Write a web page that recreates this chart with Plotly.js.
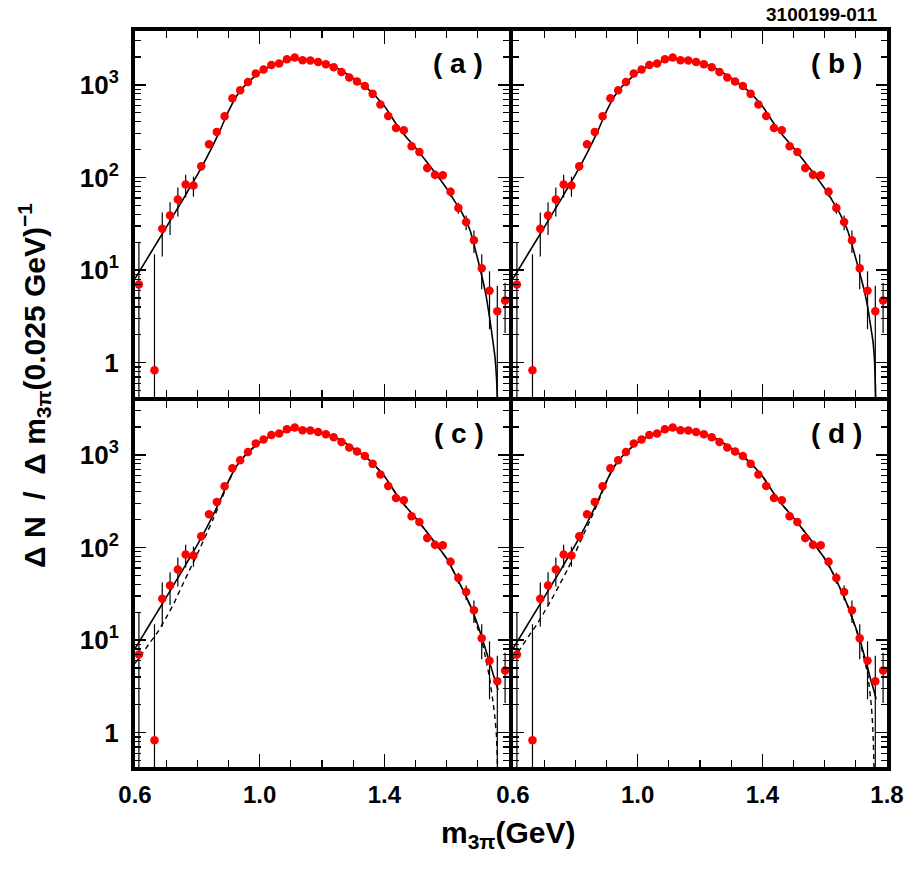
<!DOCTYPE html>
<html>
<head>
<meta charset="utf-8">
<script src="https://cdn.plot.ly/plotly-3.0.1.min.js"></script>
<style>html,body{margin:0;padding:0;background:#fff;}#chart{width:919px;height:871px;}</style>
</head>
<body>
<div id="chart"></div>
<script>
// ---- measured data (same in all four panels) ----
const mass = [0.6125, 0.6625, 0.6875, 0.7125, 0.7375, 0.7625, 0.7875, 0.8125, 0.8375, 0.8625,
  0.8875, 0.9125, 0.9375, 0.9625, 0.9875, 1.0125, 1.0375, 1.0625, 1.0875, 1.1125,
  1.1375, 1.1625, 1.1875, 1.2125, 1.2375, 1.2625, 1.2875, 1.3125, 1.3375, 1.3625,
  1.3875, 1.4125, 1.4375, 1.4625, 1.4875, 1.5125, 1.5375, 1.5625, 1.5875, 1.6125,
  1.6375, 1.6625, 1.6875, 1.7125, 1.7375, 1.7625, 1.7875];
const counts = [7.0, 0.83, 28, 39, 58, 84, 82, 132, 229, 311,
  459, 718, 876, 1077, 1326, 1465, 1644, 1700, 1893, 1973,
  1847, 1832, 1772, 1672, 1552, 1382, 1200, 1086, 975, 800,
  613, 462, 343, 324, 218, 189, 127, 107, 106, 70,
  47, 33, 21, 10.5, 6.0, 3.6, 4.7];
const errors = [13, 14, 14, 15, 20, 23, 20, 14, 20, 22,
  26, 32, 36, 40, 44, 46, 49, 50, 52, 53,
  52, 51, 50, 49, 47, 45, 42, 40, 37, 34,
  30, 26, 22, 22, 18, 16, 13, 11, 10, 8,
  6.5, 6, 5.7, 4.3, 3.7, 3.2, 2.6];

// ---- fit curves ----
const fitMass = [0.600, 0.625, 0.650, 0.675, 0.700, 0.725, 0.750, 0.775, 0.800, 0.825,
  0.850, 0.875, 0.900, 0.925, 0.950, 0.975, 1.000, 1.025, 1.050, 1.075,
  1.100, 1.125, 1.150, 1.175, 1.200, 1.250, 1.300, 1.350, 1.400, 1.450,
  1.500, 1.550, 1.600, 1.625, 1.650, 1.675, 1.700, 1.7125, 1.725, 1.7375,
  1.750, 1.755, 1.760, 1.765];
const fitA = [8.1, 11.1, 15.3, 21.0, 29, 40, 55, 77, 107, 152,
  222, 335, 520, 750, 960, 1160, 1360, 1530, 1670, 1780,
  1870, 1910, 1890, 1830, 1740, 1500, 1180, 890, 590, 330,
  209, 128, 76, 56, 41, 27, 13, 8.7, 5.6, 3.1,
  1.55, 1.15, 0.68, 0.25];
const fitB = [8.1, 11.1, 15.3, 21.0, 29, 40, 55, 77, 107, 152,
  222, 335, 520, 750, 960, 1160, 1360, 1530, 1670, 1780,
  1870, 1910, 1890, 1830, 1740, 1500, 1180, 890, 590, 330,
  209, 128, 76, 56, 40, 26, 13.3, 9.3, 6.4, 4.1,
  2.2, 1.7, 1.05, 0.3];
const fitC = [8.1, 11.1, 15.3, 21.0, 29, 40, 55, 77, 107, 152,
  222, 335, 520, 750, 960, 1160, 1360, 1530, 1670, 1780,
  1870, 1910, 1890, 1830, 1740, 1500, 1180, 890, 590, 330,
  209, 128, 76, 53, 36, 24, 14.5, 10.8, 7.9, 5.8,
  4.2, 3.7, 3.3, 2.9];
const altC = [5.6, 7.3, 9.6, 12.5, 17.5, 25, 38, 57, 85, 130,
  200, 315, 510, 750, 960, 1160, 1360, 1530, 1670, 1780,
  1870, 1910, 1890, 1830, 1740, 1500, 1180, 890, 590, 330,
  209, 128, 76, 53, 36, 23.5, 13.3, 10, 6.4, 3.9,
  2.0, 1.44, 0.9, 0.25];
const fitD = [8.1, 11.1, 15.3, 21.0, 29, 40, 55, 77, 107, 152,
  222, 335, 520, 750, 960, 1160, 1360, 1530, 1670, 1780,
  1870, 1910, 1890, 1830, 1740, 1500, 1180, 890, 590, 330,
  209, 128, 76, 54, 36, 23, 13.5, 10.2, 7.2, 5.1,
  3.5, 3.1, 2.7, 2.3];
const altD = [6.2, 8.2, 11, 14.5, 20, 28, 40, 58, 88, 135,
  205, 320, 510, 750, 960, 1160, 1360, 1530, 1670, 1780,
  1870, 1910, 1890, 1830, 1740, 1500, 1180, 890, 590, 330,
  209, 128, 76, 54, 36, 23, 13.2, 9.8, 6.6, 4.4,
  1.9, 1.03, 0.3, 0.2];

// ---- tick labels ----
const xTickValsC = [0.6, 1.0, 1.4];
const xTickTextC = ['0.6', '1.0', '1.4'];
const xTickValsD = [0.6, 1.0, 1.4, 1.8];
const xTickTextD = ['0.6', '1.0', '1.4', '1.8'];
const xMinorVals = [0.7, 0.8, 0.9, 1.1, 1.2, 1.3, 1.5, 1.6, 1.7];
const yTickVals = [1, 10, 100, 1000];
const yTickText = ['1', '10<sup>1</sup>', '10<sup>2</sup>', '10<sup>3</sup>'];
const yMinorVals = [0.5, 0.6, 0.7, 0.8, 0.9, 2, 3, 4, 5, 6, 7, 8, 9,
  20, 30, 40, 50, 60, 70, 80, 90, 200, 300, 400, 500, 600, 700, 800, 900, 2000, 3000, 4000];
const panelLabels = ['( a )', '( b )', '( c )', '( d )'];

const FONT = 'Liberation Sans, Arial, Helvetica, sans-serif';
const panels = [
  {xa: 'x', ya: 'y', solid: fitA, dashed: null},
  {xa: 'x2', ya: 'y2', solid: fitB, dashed: null},
  {xa: 'x3', ya: 'y3', solid: fitC, dashed: altC},
  {xa: 'x4', ya: 'y4', solid: fitD, dashed: altD}
];

const traces = [];
panels.forEach(p => {
  if (p.dashed) {
    traces.push({x: fitMass, y: p.dashed, xaxis: p.xa, yaxis: p.ya, type: 'scatter', mode: 'lines',
      line: {color: 'black', width: 1.4, dash: '5px,4px', shape: 'spline', smoothing: 0.6}, hoverinfo: 'skip', showlegend: false});
  }
  traces.push({x: fitMass, y: p.solid, xaxis: p.xa, yaxis: p.ya, type: 'scatter', mode: 'lines',
    line: {color: 'black', width: 1.6, shape: 'spline', smoothing: 0.6}, hoverinfo: 'skip', showlegend: false});
  traces.push({x: mass, y: counts, xaxis: p.xa, yaxis: p.ya, type: 'scatter', mode: 'markers',
    marker: {color: '#ff0000', size: 8.5, line: {width: 0}},
    error_y: {type: 'data', array: errors, visible: true, color: 'black', thickness: 1.2, width: 0},
    cliponaxis: false, showlegend: false});
});

const LW = 4;
const xDomL = [135/919, 509/919], xDomR = [513/919, 887/919];
const yDomT = [1 - 397/871, 1 - 31/871], yDomB = [1 - 767/871, 1 - 401/871];
const yRange = [-0.37, 3.582];

function xAxis(dom, anchor, vals, text) {
  return {domain: dom, anchor: anchor, range: [0.6, 1.8], showline: true, linewidth: LW, linecolor: 'black',
    mirror: 'allticks', ticks: 'inside', ticklen: 13, tickwidth: 1.5, tickcolor: 'black',
    tickmode: 'array', tickvals: vals || [0.6, 1.0, 1.4, 1.8], ticktext: text || undefined,
    showticklabels: !!text, ticklabelstandoff: 3,
    showgrid: false, zeroline: false, fixedrange: true,
    minor: {ticks: 'inside', ticklen: 7, tickwidth: 1.3, tickcolor: 'black', tickmode: 'array', tickvals: xMinorVals, showgrid: false},
    tickfont: {family: FONT, size: 24, weight: 'bold', color: 'black'}};
}
function yAxis(dom, anchor, labels) {
  return {domain: dom, anchor: anchor, type: 'log', range: yRange,
    showline: true, linewidth: LW, linecolor: 'black', mirror: 'allticks', ticks: 'inside', ticklen: 11,
    tickwidth: 1.5, tickcolor: 'black', tickmode: 'array', tickvals: yTickVals,
    ticktext: labels ? yTickText : undefined,
    showticklabels: labels, ticklabelstandoff: 7, showgrid: false, zeroline: false, fixedrange: true,
    minor: {ticks: 'inside', ticklen: 6, tickwidth: 1.2, tickcolor: 'black', tickmode: 'array', tickvals: yMinorVals, showgrid: false},
    tickfont: {family: FONT, size: 26, weight: 'bold', color: 'black'}};
}

const annotations = [];
const labelPos = [[458, 63], [836.5, 63], [459, 433], [836.5, 433]];
panelLabels.forEach((t, i) => {
  annotations.push({text: t, xref: 'paper', yref: 'paper', x: labelPos[i][0]/919, y: 1 - labelPos[i][1]/871,
    xanchor: 'center', yanchor: 'middle', showarrow: false,
    font: {family: FONT, size: 28, weight: 'bold', color: 'black'}});
});
annotations.push({text: 'm<sub>3π</sub>(GeV)', xref: 'paper', yref: 'paper', x: 508/919, y: 1 - 834/871,
  xanchor: 'center', yanchor: 'middle', showarrow: false,
  font: {family: FONT, size: 30, weight: 'bold', color: 'black'}});
annotations.push({text: 'Δ\u00a0N\u00a0\u00a0/\u00a0\u00a0Δ\u00a0m<sub>3π</sub>(0.025 GeV)<sup>−1</sup>', xref: 'paper', yref: 'paper',
  x: 34/919, y: 1 - 386/871, xanchor: 'center', yanchor: 'middle', textangle: -90, showarrow: false,
  font: {family: FONT, size: 30, weight: 'bold', color: 'black'}});
annotations.push({text: '3100199-011', xref: 'paper', yref: 'paper', x: 821/919, y: 1 - 15/871,
  xanchor: 'center', yanchor: 'middle', showarrow: false,
  font: {family: FONT, size: 19, weight: 'bold', color: 'black'}});

const layout = {
  width: 919, height: 871, autosize: false,
  margin: {l: 0, r: 0, t: 0, b: 0, pad: 0},
  paper_bgcolor: 'white', plot_bgcolor: 'white', showlegend: false,
  xaxis: xAxis(xDomL, 'y', null, null),
  yaxis: yAxis(yDomT, 'x', true),
  xaxis2: xAxis(xDomR, 'y2', null, null),
  yaxis2: yAxis(yDomT, 'x2', false),
  xaxis3: xAxis(xDomL, 'y3', xTickValsC, xTickTextC),
  yaxis3: yAxis(yDomB, 'x3', true),
  xaxis4: xAxis(xDomR, 'y4', xTickValsD, xTickTextD),
  yaxis4: yAxis(yDomB, 'x4', false),
  annotations: annotations
};

Plotly.newPlot('chart', traces, layout, {staticPlot: true, displayModeBar: false});
</script>
</body>
</html>
